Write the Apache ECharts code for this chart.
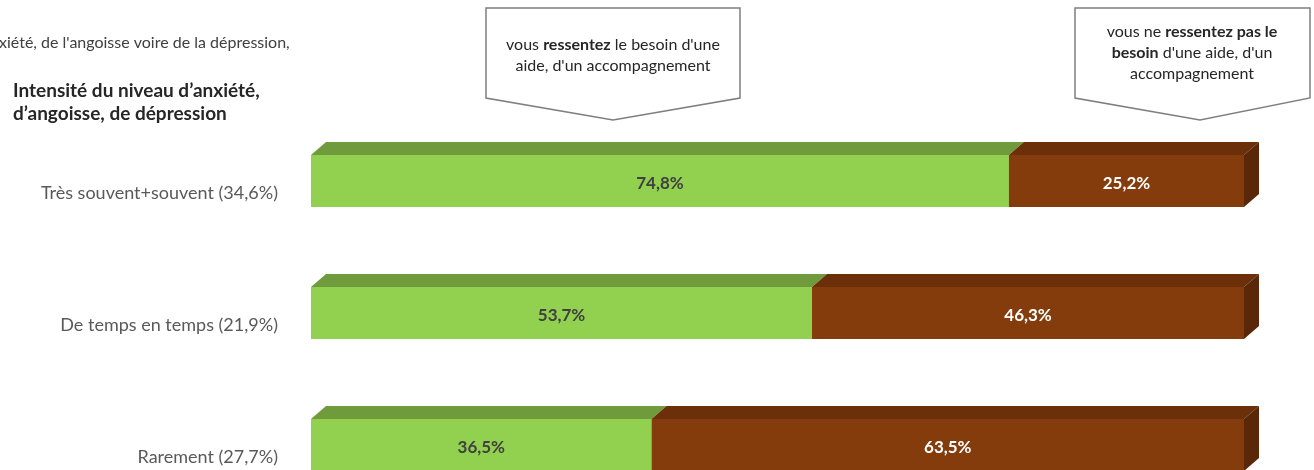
<!DOCTYPE html>
<html>
<head>
<meta charset="utf-8">
<script src="https://cdn.jsdelivr.net/npm/echarts@6/dist/echarts.min.js"></script>
<style>
  html, body { margin: 0; padding: 0; background: #fff; }
  #chart { width: 1314px; height: 470px; }
</style>
</head>
<body>
<div id="chart"></div>
<script>
// data
const categories = ['Très souvent+souvent (34,6%)', 'De temps en temps (21,9%)', 'Rarement (27,7%)'];
const besoinOui = [74.8, 53.7, 36.5];
const besoinNon = [25.2, 46.3, 63.5];
const seriesNames = ["vous ressentez le besoin d'une aide", "vous ne ressentez pas le besoin d'une aide"];

const FONT = 'Lato, "Open Sans", sans-serif';
const DX = 15, DY = 13;

const palette = [
  { front: '#92d050', top: '#6f9b3c', side: '#5a7f30', label: '#404040' },
  { front: '#843c0c', top: '#6b300a', side: '#5a2808', label: '#ffffff' }
];

const fmt = v => v.toFixed(1).replace('.', ',') + '%';

function makeRender(colors, isLast) {
  return function (params, api) {
    const catIdx = api.value(0);
    const start = api.value(1);
    const end = api.value(2);
    const p0 = api.coord([start, catIdx]);
    const p1 = api.coord([end, catIdx]);
    const h = api.size([0, 1])[1] * 0.394;
    const x0 = p0[0], x1 = p1[0];
    const yTop = p0[1] - h / 2, yBot = p0[1] + h / 2;
    const children = [
      {
        type: 'polygon',
        shape: { points: [[x0, yTop], [x0 + DX, yTop - DY], [x1 + DX, yTop - DY], [x1, yTop]] },
        style: { fill: colors.top }
      },
      {
        type: 'rect',
        shape: { x: x0, y: yTop, width: x1 - x0, height: yBot - yTop },
        style: { fill: colors.front }
      }
    ];
    if (isLast) {
      children.push({
        type: 'polygon',
        shape: { points: [[x1, yTop], [x1 + DX, yTop - DY], [x1 + DX, yBot - DY], [x1, yBot]] },
        style: { fill: colors.side }
      });
    }
    children.push({
      type: 'text',
      style: {
        text: fmt(end - start),
        x: (x0 + x1) / 2, y: p0[1] + 3,
        align: 'center', verticalAlign: 'middle',
        fill: colors.label, font: 'bold 17px ' + FONT
      }
    });
    return { type: 'group', children: children };
  };
}

const dataOui = besoinOui.map((v, i) => [i, 0, v]);
const dataNon = besoinNon.map((v, i) => [i, besoinOui[i], besoinOui[i] + v]);

function callout(x0, x1, apex, yTop, yBody, yApex) {
  return {
    type: 'polygon',
    shape: { points: [[x0, yTop], [x1, yTop], [x1, yBody], [apex, yApex], [x0, yBody]] },
    style: { fill: '#fff', stroke: '#7f7f7f', lineWidth: 1.5 },
    z: 10
  };
}

const richStyle = {
  n: { font: '16px ' + FONT, fill: '#262626', lineHeight: 21 },
  b: { font: 'bold 16px ' + FONT, fill: '#262626', lineHeight: 21 }
};

const chart = echarts.init(document.getElementById('chart'));
chart.setOption({
  animation: false,
  backgroundColor: '#fff',
  grid: { left: 311, width: 933, top: 115, height: 396, outerBoundsMode: 'none', containLabel: false },
  xAxis: { type: 'value', min: 0, max: 100, show: false },
  yAxis: {
    type: 'category',
    inverse: true,
    data: categories,
    axisLine: { show: false },
    axisTick: { show: false },
    axisLabel: {
      color: '#595959', fontSize: 18, fontFamily: FONT, margin: 33,
      verticalAlign: 'top', lineHeight: 22, padding: [1, 0, 0, 0]
    }
  },
  series: [
    { type: 'custom', name: seriesNames[0], renderItem: makeRender(palette[0], false), data: dataOui, encode: { x: [1, 2], y: 0 } },
    { type: 'custom', name: seriesNames[1], renderItem: makeRender(palette[1], true), data: dataNon, encode: { x: [1, 2], y: 0 } }
  ],
  graphic: [
    {
      type: 'text', left: -1, top: 35,
      style: { text: "xiété, de l'angoisse voire de la dépression,", font: '16px ' + FONT, fill: '#404040' }
    },
    {
      type: 'text', left: 13, top: 79,
      style: { text: "Intensité du niveau d’anxiété,\nd’angoisse, de dépression", font: 'bold 19px ' + FONT, fill: '#262626', lineHeight: 23 }
    },
    callout(486, 740, 613, 8, 98, 120),
    {
      type: 'text', z: 11,
      style: {
        x: 613, y: 34, align: 'center',
        text: "{n|vous }{b|ressentez}{n| le besoin d'une}\n{n|aide, d'un accompagnement}",
        rich: richStyle
      }
    },
    callout(1075, 1310, 1200, 8, 98, 120),
    {
      type: 'text', z: 11,
      style: {
        x: 1192, y: 21, align: 'center',
        text: "{n|vous ne }{b|ressentez pas le}\n{b|besoin}{n| d'une aide, d'un}\n{n|accompagnement}",
        rich: richStyle
      }
    }
  ]
});
</script>
</body>
</html>
